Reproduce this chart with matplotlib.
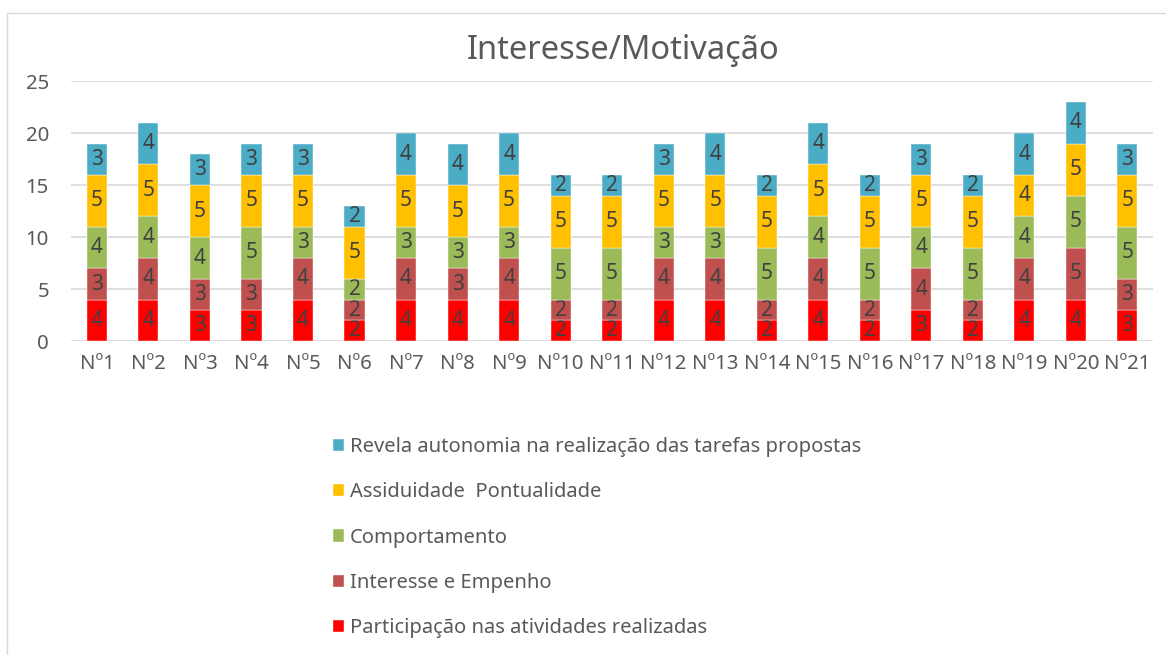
import matplotlib.pyplot as plt
import numpy as np
from matplotlib.patches import Rectangle

plt.rcParams['font.family'] = ['Noto Sans', 'DejaVu Sans']

alunos = ['Nº%d' % i for i in range(1, 22)]

participacao = [4, 4, 3, 3, 4, 2, 4, 4, 4, 2, 2, 4, 4, 2, 4, 2, 3, 2, 4, 4, 3]
interesse = [3, 4, 3, 3, 4, 2, 4, 3, 4, 2, 2, 4, 4, 2, 4, 2, 4, 2, 4, 5, 3]
comportamento = [4, 4, 4, 5, 3, 2, 3, 3, 3, 5, 5, 3, 3, 5, 4, 5, 4, 5, 4, 5, 5]
assiduidade = [5, 5, 5, 5, 5, 5, 5, 5, 5, 5, 5, 5, 5, 5, 5, 5, 5, 5, 4, 5, 5]
autonomia = [3, 4, 3, 3, 3, 2, 4, 4, 4, 2, 2, 3, 4, 2, 4, 2, 3, 2, 4, 4, 3]

series = [
    ('Participação nas atividades realizadas', participacao, '#FF0000'),
    ('Interesse e Empenho', interesse, '#C0504D'),
    ('Comportamento', comportamento, '#9BBB59'),
    ('Assiduidade  Pontualidade', assiduidade, '#FFC000'),
    ('Revela autonomia na realização das tarefas propostas', autonomia, '#4BACC6'),
]

fig = plt.figure(figsize=(11.66, 6.55), dpi=100)
ax = fig.add_axes([0.061, 0.479, 0.928, 0.397])

x = np.arange(len(alunos))
bottom = np.zeros(len(alunos))
handles = []
for name, vals, color in series:
    vals = np.array(vals)
    bars = ax.bar(x, vals, 0.39, bottom=bottom, color=color, label=name,
                  edgecolor='white', linewidth=0.3, zorder=3)
    ax.bar_label(bars, labels=[str(v) for v in vals], label_type='center',
                 color='#404040', fontsize=15)
    handles.append(bars)
    bottom += vals

ax.set_xlim(-0.5, len(alunos) - 0.5)
ax.set_ylim(0, 25)
ax.set_yticks(range(0, 26, 5))
ax.set_xticks(x)
ax.set_xticklabels(alunos)
ax.tick_params(length=0, labelsize=14.7, labelcolor='#595959')
ax.tick_params(axis='x', pad=9)
ax.tick_params(axis='y', pad=16)
ax.grid(axis='y', color='#D9D9D9', linewidth=1.2, zorder=0)
for s in ax.spines.values():
    s.set_visible(False)

fig.text(0.534, 0.923, 'Interesse/Motivação', ha='center', va='center',
         fontsize=23.5, color='#595959')

fig.legend(handles[::-1], [s[0] for s in series][::-1], loc='upper left',
           bbox_to_anchor=(0.27, 0.36), frameon=False, fontsize=14.5,
           handlelength=0.55, handleheight=0.55, handletextpad=0.3,
           labelspacing=1.25, labelcolor='#595959')

fig.patches.append(Rectangle((0.006, -0.01), 1.2, 0.99, transform=fig.transFigure,
                             fill=False, edgecolor='#D9D9D9', linewidth=1))

fig.savefig('out.png', dpi=100, facecolor='white')
